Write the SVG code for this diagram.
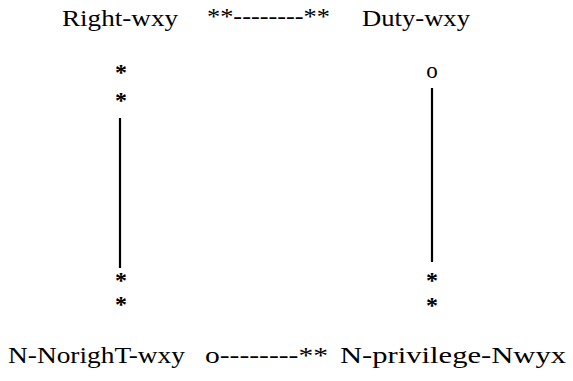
<svg xmlns="http://www.w3.org/2000/svg" width="573" height="381" viewBox="0 0 573 381">
  <style>
    .lbl { font-family: "Liberation Serif", "Times New Roman", serif; font-size: 23px; fill: #000; }
    .mark { font-family: "Liberation Serif", "Times New Roman", serif; font-size: 24px; font-weight: bold; fill: #000; text-anchor: middle; }
    .end { font-family: "Liberation Serif", "Times New Roman", serif; font-size: 23px; fill: #000; text-anchor: middle; }
    .rel { stroke: #000; stroke-width: 2.2; fill: none; }
  </style>
  <rect width="573" height="381" fill="#fff"/>

  <!-- nodes -->
  <g id="right-wxy">
    <text class="lbl" x="62" y="26" textLength="116" lengthAdjust="spacingAndGlyphs">Right-wxy</text>
  </g>
  <g id="duty-wxy">
    <text class="lbl" x="362" y="26" textLength="108" lengthAdjust="spacingAndGlyphs">Duty-wxy</text>
  </g>
  <g id="n-noright-wxy">
    <text class="lbl" x="8" y="363" textLength="177" lengthAdjust="spacingAndGlyphs">N-NorighT-wxy</text>
  </g>
  <g id="n-privilege-nwyx">
    <text class="lbl" x="340" y="363" textLength="226" lengthAdjust="spacingAndGlyphs">N-privilege-Nwyx</text>
  </g>

  <!-- connectors -->
  <g id="connectors">
    <text class="lbl" x="207" y="24" textLength="123" lengthAdjust="spacingAndGlyphs">**--------**</text>
    <text class="lbl" x="205" y="363" textLength="123" lengthAdjust="spacingAndGlyphs">o--------**</text>

    <!-- left vertical: Right-wxy to N-NorighT-wxy -->
    <text class="mark" x="121" y="80">*</text>
    <text class="mark" x="121" y="108">*</text>
    <line class="rel" x1="120" y1="118" x2="120" y2="268"/>
    <text class="mark" x="121" y="288">*</text>
    <text class="mark" x="121" y="312">*</text>

    <!-- right vertical: Duty-wxy to N-privilege-Nwyx -->
    <text class="end" x="432" y="78">o</text>
    <line class="rel" x1="432" y1="88" x2="432" y2="262"/>
    <text class="mark" x="432" y="288">*</text>
    <text class="mark" x="432" y="313">*</text>
  </g>
</svg>
